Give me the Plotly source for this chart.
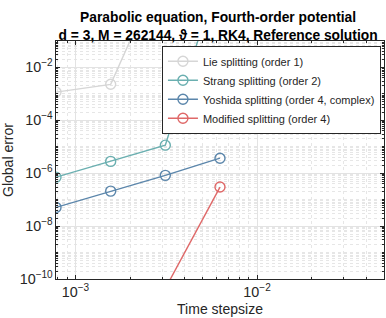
import plotly.graph_objects as go

dt = [0.1/128, 0.1/64, 0.1/32, 0.1/16]
lie = [1.17e-3, 2.3e-3, 1e2]
strang = [7.1e-7, 2.8e-6, 1.15e-5, 5e1]
yoshida = [5.1e-8, 2.1e-7, 8.3e-7, 3.7e-6]
modified = [None, None, 4.4e-11, 3.0e-7]

series = [
    ("Lie splitting (order 1)", lie, "#d6d6d6"),
    ("Strang splitting (order 2)", strang, "#6aafb0"),
    ("Yoshida splitting (order 4, complex)", yoshida, "#5b86ab"),
    ("Modified splitting (order 4)", modified, "#df6868"),
]

fig = go.Figure()
for name, ys, col in series:
    fig.add_trace(go.Scatter(
        x=dt[:len(ys)], y=ys, name=name, mode="lines+markers",
        line=dict(color=col, width=1.4),
        marker=dict(symbol="circle-open", size=10, color=col, line=dict(width=1.4, color=col)),
        connectgaps=False, cliponaxis=True,
    ))

axis_common = dict(
    showline=True, linecolor="#262626", linewidth=1, mirror="ticks",
    ticks="inside", ticklen=4, tickcolor="#262626",
    showgrid=True, gridcolor="#e3e3e3", gridwidth=1,
    zeroline=False, exponentformat="power", automargin=False,
    tickfont=dict(size=11.5, color="#262626"),
)

fig.update_xaxes(type="log", range=[-3.10721, -1.30103], dtick=1,
                 minor=dict(showgrid=True, gridcolor="#e6e6e6", griddash="dot", ticks="inside", ticklen=2, tickcolor="#262626"),
                 title=dict(text="Time stepsize", font=dict(size=14, color="#262626"), standoff=5),
                 **axis_common)
fig.update_yaxes(type="log", range=[-10, -1], dtick=2, tick0=0,
                 minor=dict(showgrid=True, gridcolor="#e6e6e6", griddash="dot", ticks="inside", ticklen=2, tickcolor="#262626", dtick="D1"),
                 title=dict(text="Global error", font=dict(size=14, color="#262626"), standoff=3),
                 **axis_common)

fig.update_layout(
    width=386, height=318,
    margin=dict(l=56, r=2, t=41, b=39),
    paper_bgcolor="white", plot_bgcolor="white",
    font=dict(family="Liberation Sans, Arial, sans-serif", color="#262626"),
    title=dict(text="<b>Parabolic equation, Fourth-order potential<br>d = 3, M = 262144, \u03d1 = 1, RK4, Reference solution</b>",
               x=0.565, xanchor="center", y=0.93, yanchor="top",
               font=dict(size=13.8, color="#000000")),
    legend=dict(x=0.323, y=0.98, xanchor="left", yanchor="top",
                bgcolor="white", bordercolor="#262626", borderwidth=1,
                font=dict(size=11, color="#262626"),
                tracegroupgap=0, itemwidth=30),
    showlegend=True,
)

fig.write_html("out.html", config={"displayModeBar": False},
               post_script="document.body.style.margin='0';document.body.style.overflow='hidden';")
